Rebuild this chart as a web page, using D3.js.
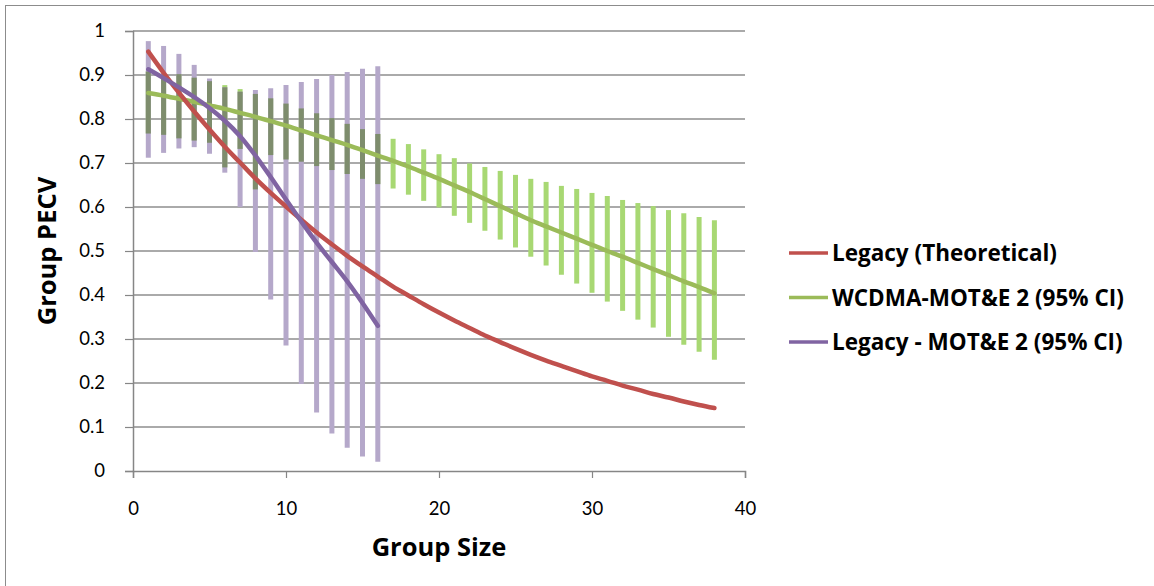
<!DOCTYPE html>
<html>
<head>
<meta charset="utf-8">
<script src="https://cdn.jsdelivr.net/npm/d3@7"></script>
<style>
  body { margin: 0; background: #fff; }
  svg { display: block; }
</style>
</head>
<body>
<svg id="chart"></svg>
<script>
// Data
var groupSize = [1,2,3,4,5,6,7,8,9,10,11,12,13,14,15,16,17,18,19,20,21,22,23,24,25,26,27,28,29,30,31,32,33,34,35,36,37,38];

var legacyTheory = [0.953,0.905,0.860,0.817,0.776,0.737,0.701,0.665,0.632,0.601,0.571,0.542,0.515,0.489,0.465,0.442,0.419,0.399,0.379,0.360,
                    0.342,0.325,0.308,0.293,0.278,0.264,0.251,0.239,0.227,0.215,0.205,0.194,0.185,0.175,0.167,0.158,0.150,0.143];

var wcdmaMean = [0.859,0.853,0.846,0.839,0.831,0.823,0.814,0.805,0.795,0.785,0.774,0.763,0.752,0.741,0.729,0.717,0.705,0.692,0.678,0.664,
                 0.649,0.634,0.618,0.602,0.586,0.570,0.556,0.542,0.528,0.514,0.500,0.487,0.473,0.459,0.445,0.431,0.418,0.404];
var wcdmaHigh = [0.908,0.900,0.902,0.894,0.886,0.877,0.868,0.857,0.847,0.835,0.824,0.813,0.802,0.789,0.777,0.766,0.755,0.743,0.731,0.720,
                 0.711,0.699,0.691,0.682,0.673,0.664,0.657,0.648,0.641,0.632,0.625,0.616,0.609,0.602,0.593,0.586,0.577,0.570];
var wcdmaLow  = [0.767,0.764,0.756,0.751,0.746,0.690,0.732,0.640,0.718,0.708,0.703,0.693,0.684,0.675,0.664,0.652,0.642,0.628,0.614,0.599,
                 0.580,0.564,0.546,0.526,0.508,0.487,0.467,0.446,0.426,0.405,0.385,0.364,0.344,0.326,0.305,0.287,0.271,0.253];

var legacyMoteSize = [1,2,3,4,5,6,7,8,9,10,11,12,13,14,15,16];
var legacyMote     = [0.913,0.893,0.872,0.850,0.825,0.796,0.761,0.717,0.668,0.617,0.567,0.519,0.475,0.431,0.382,0.330];
var legacyMoteHigh = [0.977,0.966,0.948,0.923,0.892,0.872,0.862,0.866,0.870,0.877,0.884,0.891,0.900,0.907,0.914,0.920];
var legacyMoteLow  = [0.712,0.723,0.733,0.736,0.721,0.678,0.600,0.498,0.390,0.285,0.198,0.133,0.085,0.053,0.033,0.021];

var xTicks = [0,10,20,30,40];
var yTicks = [0,0.1,0.2,0.3,0.4,0.5,0.6,0.7,0.8,0.9,1];

var seriesNames = ["Legacy (Theoretical)", "WCDMA-MOT&E 2 (95% CI)", "Legacy - MOT&E 2 (95% CI)"];
var seriesColors = ["#c0504d", "#9bbb59", "#8064a2"];

// The svg
var width = 1154, height = 586;
var svg = d3.select("#chart").attr("width", width).attr("height", height);

// frame of the chart area (runs off the right/bottom of the picture)
svg.append("rect")
   .attr("x", 5.5).attr("y", 5.5)
   .attr("width", 1160).attr("height", 600)
   .attr("fill", "none").attr("stroke", "#8c8c8c").attr("stroke-width", 1);

var x = d3.scaleLinear().domain([0, 40]).range([133, 745]);
var y = d3.scaleLinear().domain([0, 1]).range([471, 31]);

var font = "Lato, 'Open Sans', sans-serif";
var boldFont = "'Open Sans', Lato, sans-serif";

// gridlines
svg.append("g")
   .selectAll("line")
   .data(yTicks.filter(d => d > 0))
   .join("line")
     .attr("x1", x(0)).attr("x2", x(40))
     .attr("y1", d => y(d)).attr("y2", d => y(d))
     .attr("stroke", "#8e8e8e").attr("stroke-width", 1.5);

// y axis
var yAxis = svg.append("g")
   .attr("transform", `translate(${x(0)},0)`)
   .call(d3.axisLeft(y).tickValues(yTicks).tickSize(8).tickPadding(20).tickFormat(d => d3.format("~g")(d)));
yAxis.select(".domain").attr("stroke", "#868686").attr("stroke-width", 1.5);
yAxis.selectAll(".tick line").attr("stroke", "#868686").attr("stroke-width", 1.2);
yAxis.selectAll("text").attr("font-family", font).attr("font-size", 18.5).attr("fill", "#000");

// x axis
var xAxis = svg.append("g")
   .attr("transform", `translate(0,${y(0)})`)
   .call(d3.axisBottom(x).tickValues(xTicks).tickSize(7).tickPadding(24).tickFormat(d3.format("d")));
xAxis.select(".domain").attr("stroke", "#868686").attr("stroke-width", 1.5);
xAxis.selectAll(".tick line").attr("stroke", "#868686").attr("stroke-width", 1.2);
xAxis.selectAll("text").attr("font-family", font).attr("font-size", 18.5).attr("fill", "#000");

// axis titles
svg.append("text")
   .attr("transform", `translate(56,${y(0.5)}) rotate(-90)`)
   .attr("text-anchor", "middle")
   .attr("font-family", boldFont).attr("font-weight", "bold").attr("font-size", 25.5)
   .text("Group PECV");

svg.append("text")
   .attr("x", x(20)).attr("y", 556)
   .attr("text-anchor", "middle")
   .attr("font-family", boldFont).attr("font-weight", "bold").attr("font-size", 25.5)
   .text("Group Size");

// error bars
var purpleBars = legacyMoteSize.map((s, i) => ({s: s, lo: legacyMoteLow[i], hi: legacyMoteHigh[i]}));
var greenBars = groupSize.map((s, i) => ({s: s, lo: wcdmaLow[i], hi: wcdmaHigh[i]}));
// where both intervals cover the same range the two patterns mix into a dull green
var overlapBars = purpleBars.map((d, i) => ({s: d.s, lo: Math.max(d.lo, wcdmaLow[i]), hi: Math.min(d.hi, wcdmaHigh[i])}))
                            .filter(d => d.hi > d.lo);

function drawBars(data, color) {
  svg.append("g")
     .selectAll("line")
     .data(data)
     .join("line")
       .attr("x1", d => x(d.s)).attr("x2", d => x(d.s))
       .attr("y1", d => y(d.hi)).attr("y2", d => y(d.lo))
       .attr("stroke", color).attr("stroke-width", 5);
}
drawBars(greenBars, "#a8d873");
drawBars(purpleBars, "#b5a8ca");
drawBars(overlapBars, "#7e8d6d");

// lines
var line = d3.line().x(d => x(d[0])).y(d => y(d[1])).curve(d3.curveCatmullRom);

var lineData = [
  d3.zip(groupSize, legacyTheory),
  d3.zip(groupSize, wcdmaMean),
  d3.zip(legacyMoteSize, legacyMote)
];

svg.append("g")
   .selectAll("path")
   .data([1, 0, 2])
   .join("path")
     .attr("d", i => line(lineData[i]))
     .attr("fill", "none")
     .attr("stroke", i => seriesColors[i])
     .attr("stroke-width", 4.5)
     .attr("stroke-linecap", "round")
     .attr("stroke-linejoin", "round");

// legend
var legend = svg.append("g")
   .selectAll("g")
   .data(seriesNames)
   .join("g")
     .attr("transform", (d, i) => `translate(789,${253 + i * 44.5})`);

legend.append("line")
   .attr("x1", 0).attr("x2", 39)
   .attr("stroke", (d, i) => seriesColors[i])
   .attr("stroke-width", 3.5);

legend.append("text")
   .attr("x", 43).attr("y", 0).attr("dy", "0.36em")
   .attr("font-family", boldFont).attr("font-weight", "bold").attr("font-size", 22.5)
   .text(d => d);
</script>
</body>
</html>
